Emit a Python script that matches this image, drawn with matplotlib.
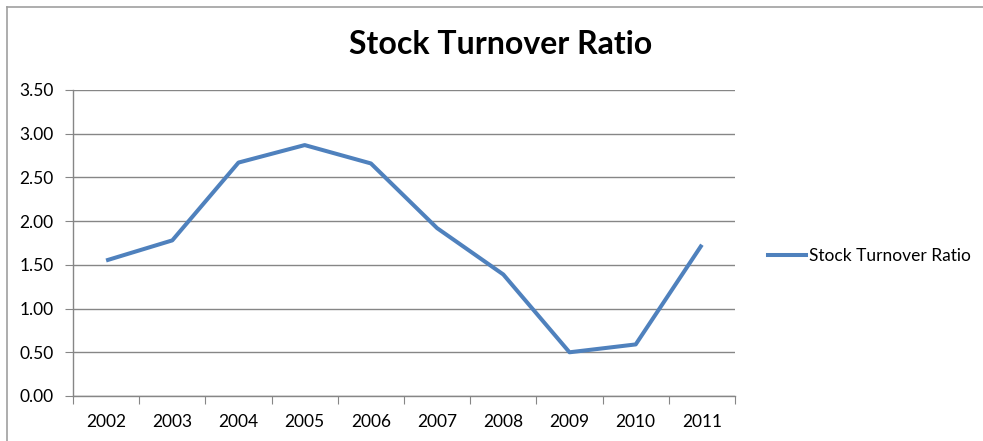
import numpy as np
import matplotlib
matplotlib.use("Agg")
import matplotlib.pyplot as plt
from matplotlib.lines import Line2D

# data
years = ["2002", "2003", "2004", "2005", "2006", "2007", "2008", "2009", "2010", "2011"]
turnover = [1.55, 1.78, 2.67, 2.87, 2.66, 1.92, 1.39, 0.50, 0.59, 1.73]
series_name = "Stock Turnover Ratio"
yticks = [0.0, 0.5, 1.0, 1.5, 2.0, 2.5, 3.0, 3.5]

plt.rcParams['font.family'] = ['Lato', 'DejaVu Sans']
fs = 12.5

fig = plt.figure(figsize=(9.83, 4.41), dpi=100)
ax = fig.add_axes([73/983, 45/441, (735-73)/983, (396-90)/441])

x = np.arange(len(years))
ax.plot(x, turnover, color='#4F81BD', lw=2.9, solid_joinstyle='round', solid_capstyle='butt', zorder=3)

ax.set_xlim(-0.5, len(years) - 0.5)
ax.set_ylim(0, 3.5)
ax.set_yticks(yticks)
ax.set_yticklabels(["%.2f" % v for v in yticks], fontsize=fs)
ax.yaxis.grid(True, color='#868686', lw=1.0)
ax.set_axisbelow(True)

# category axis: ticks between categories, labels at centres
ax.set_xticks(np.arange(-0.5, len(years), 1.0))
ax.set_xticklabels([])
ax.set_xticks(x, minor=True)
ax.set_xticklabels(years, minor=True, fontsize=fs)
ax.tick_params(axis='x', which='major', length=6, color='#868686', direction='out')
ax.tick_params(axis='x', which='minor', length=0, pad=13)
ax.tick_params(axis='y', length=6, color='#868686', direction='out', pad=8)

for s in ['top', 'right']:
    ax.spines[s].set_visible(False)
for s in ['left', 'bottom']:
    ax.spines[s].set_color('#868686')
    ax.spines[s].set_linewidth(1.0)

fig.text(501/983, 1 - 45/441, series_name, ha='center', va='center',
         fontsize=23, fontweight='bold')

# legend on the right
handle = Line2D([0], [0], color='#4F81BD', lw=2.9)
fig.legend([handle], [series_name], loc='center left',
           bbox_to_anchor=(752/983, 1 - 256/441), frameon=False,
           fontsize=fs, handlelength=2.2, handletextpad=0.2)

# chart area border
fig.add_artist(Line2D([7/983, 7/983], [0, 1 - 7/441], color='#a0a0a0', lw=1.2))
fig.add_artist(Line2D([7/983, 1], [1 - 7/441, 1 - 7/441], color='#a0a0a0', lw=1.2))

fig.savefig('out.png', dpi=100)
